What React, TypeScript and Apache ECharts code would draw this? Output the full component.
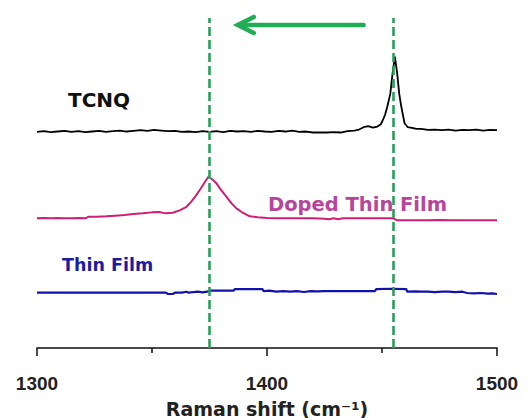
import React, { useEffect, useRef } from "react";
import * as echarts from "echarts";

// Raman shift (cm^-1) sample positions and intensities (a.u., offset-stacked)
const tcnqX = [1300,1303,1306,1309,1312,1315,1318,1321,1324,1327,1330,1333,1336,1339,1342,1345,1348,1351,1354,1357,1360,1363,1366,1369,1372,1375,1378,1381,1384,1387,1390,1393,1396,1399,1402,1405,1408,1411,1414,1417,1420,1423,1426,1429,1432,1435,1438,1440,1442,1444,1446,1448,1449.5,1450.4,1451.4,1452.3,1453.6,1454.6,1455.6,1456.6,1457.5,1458.4,1459.8,1461.2,1463,1465,1467,1470,1473,1476,1479,1482,1485,1488,1491,1494,1497,1500];
const tcnqY = [-0.1,0.1,-0.2,0.0,0.2,-0.1,0.1,-0.2,0.0,0.2,-0.1,0.1,0.3,0.0,0.2,0.4,0.2,0.5,0.3,0.1,0.2,-0.1,0.0,-0.2,0.1,-0.1,0.1,-0.2,0.2,0.0,0.1,-0.1,0.2,0.0,-0.1,0.2,0.0,0.3,-0.1,0.0,-0.3,-0.3,-0.3,-0.2,-0.3,0.1,0.3,0.6,1.3,1.6,1.2,1.5,2.2,3.5,5.2,7.5,11.4,17.6,22.7,17.6,11.4,7.5,2.5,1.3,1.1,0.8,0.8,0.5,0.6,0.4,0.6,0.3,0.5,0.4,0.6,0.3,0.5,0.4];

const dopedX = [1300,1303,1306,1309,1312,1315,1318,1321,1322.5,1326,1330,1334,1338,1342,1346,1350,1353,1356,1359,1362,1365,1367,1369,1371,1373,1374.5,1376,1378,1380,1382.4,1384.5,1386.7,1389,1392.5,1396,1400,1405,1410,1415,1420,1425,1427,1429,1431,1433,1436,1440,1445,1450,1455,1456.5,1460,1465,1470,1475,1480,1485,1490,1495,1500];
const dopedY = [0.0,0.1,0.0,0.1,0.0,0.0,0.1,0.0,0.5,0.5,0.6,0.8,1.0,1.3,1.5,1.8,1.9,1.5,1.7,2.4,3.5,5.0,6.8,8.8,11.0,12.6,11.9,10.6,8.6,6.5,4.6,3.0,1.9,0.6,0.3,0.1,0.0,0.0,0.0,0.0,-0.1,-0.3,0.0,-0.3,0.0,0.0,0.0,0.0,0.0,0.0,-0.6,-0.6,-0.6,-0.6,-0.5,-0.6,-0.6,-0.6,-0.6,-0.6];

const thinX = [1300,1310,1320,1330,1340,1350,1356,1357,1359,1360,1363,1365,1366,1368,1370,1372,1374,1375,1380,1385.5,1386,1392,1398,1398.5,1401,1404,1407,1410,1413,1416,1419,1422,1425,1430,1436,1442,1447,1447.5,1454,1460.5,1461,1464,1467,1470,1473,1476,1479,1482,1485,1487,1490,1493,1496,1498,1500];
const thinY = [0.0,0.0,0.0,0.0,0.0,0.0,0.0,-0.4,-0.4,0.0,0.0,0.3,0.0,0.2,0.3,0.1,0.3,0.6,0.6,0.6,1.1,1.1,1.1,0.5,0.6,0.3,0.5,0.3,0.5,0.2,0.5,0.4,0.5,0.5,0.5,0.5,0.5,1.1,1.2,1.1,0.3,0.4,0.3,0.3,0.2,0.3,0.3,0.2,0.3,-0.1,-0.2,-0.1,-0.3,-0.2,-0.4];

const offsets = { tcnq: 65.6, doped: 39.3, thin: 16.76 };
const peakLines = [1375, 1455];
const xTicks = { min: 1300, max: 1500, interval: 100 };
const labels = { tcnq: "TCNQ", doped: "Doped Thin Film", thin: "Thin Film" };

const pairs = (xs: number[], ys: number[], off: number) => xs.map((x, i) => [x, ys[i] + off]);

export default function App() {
  const ref = useRef<HTMLDivElement>(null);
  useEffect(() => {
    if (!ref.current) return;
    const chart = echarts.init(ref.current, null, { renderer: "svg" });
    const font = "DejaVu Sans";
    const option: any = {
      animation: false,
      backgroundColor: "#ffffff",
      grid: { left: 37, right: 29, top: 18, bottom: 70, outerBoundsMode: "none", containLabel: false },
      xAxis: {
        type: "value",
        min: xTicks.min,
        max: xTicks.max,
        interval: xTicks.interval,
        axisLine: { lineStyle: { color: "#111", width: 1.6 } },
        axisTick: { length: 8, lineStyle: { color: "#111", width: 1.5 } },
        minorTick: { show: true, splitNumber: 2, length: 5, lineStyle: { color: "#111", width: 1.5 } },
        splitLine: { show: false },
        minorSplitLine: { show: false },
        axisLabel: { fontFamily: "Liberation Sans", fontWeight: "bold", fontSize: 19, color: "#222", margin: 26, formatter: (v: number) => String(v) },
        name: "Raman shift (cm⁻¹)",
        nameLocation: "middle",
        nameGap: 51,
        nameTextStyle: { fontFamily: font, fontWeight: "bold", fontSize: 19, color: "#222" },
      },
      yAxis: { type: "value", min: 0, max: 100, show: false },
      series: [
        {
          name: labels.tcnq, type: "line", showSymbol: false, z: 3,
          lineStyle: { color: "#000", width: 1.8 },
          data: pairs(tcnqX, tcnqY, offsets.tcnq),
        },
        {
          name: labels.doped, type: "line", showSymbol: false, z: 3,
          lineStyle: { color: "#cf1f72", width: 2 },
          data: pairs(dopedX, dopedY, offsets.doped),
        },
        {
          name: labels.thin, type: "line", showSymbol: false, z: 3,
          lineStyle: { color: "#1212aa", width: 2.2 },
          data: pairs(thinX, thinY, offsets.thin),
          markLine: {
            silent: true, symbol: "none", label: { show: false }, z: 5,
            lineStyle: { color: "#2a9f5a", type: [9, 4], width: 2.6 },
            data: peakLines.map((v) => ({ xAxis: v })),
          },
        },
      ],
    };
    chart.setOption(option);
    const tail = chart.convertToPixel({ xAxisIndex: 0, yAxisIndex: 0 }, [1442, 97.9]);
    const tip = chart.convertToPixel({ xAxisIndex: 0, yAxisIndex: 0 }, [1387.3, 97.9]);
    const green = "#20ad55";
    chart.setOption({
      graphic: [
        { type: "line", z: 10, shape: { x1: tail[0], y1: tail[1], x2: tip[0] + 2, y2: tip[1] }, style: { stroke: green, lineWidth: 4.5, lineCap: "round" } },
        { type: "polyline", z: 10, shape: { points: [[tip[0] + 16, tip[1] - 8], [tip[0], tip[1]], [tip[0] + 16, tip[1] + 8]] }, style: { stroke: green, lineWidth: 4.5, fill: "none", lineCap: "round", lineJoin: "miter" } },
        { type: "text", z: 1, x: 68, y: 100, style: { text: labels.tcnq, fill: "#111", font: `bold 20px "${font}"`, verticalAlign: "middle", align: "left" } },
        { type: "text", z: 1, x: 268, y: 204, style: { text: labels.doped, fill: "#b8459b", font: `bold 19.5px "${font}"`, verticalAlign: "middle", align: "left" } },
        { type: "text", z: 1, x: 62, y: 265, style: { text: labels.thin, fill: "#1c1c9e", font: `bold 17.5px "${font}"`, verticalAlign: "middle", align: "left" } },
      ],
    });
    return () => chart.dispose();
  }, []);
  return <div ref={ref} style={{ position: "absolute", left: 0, top: 0, width: 526, height: 418 }} />;
}
